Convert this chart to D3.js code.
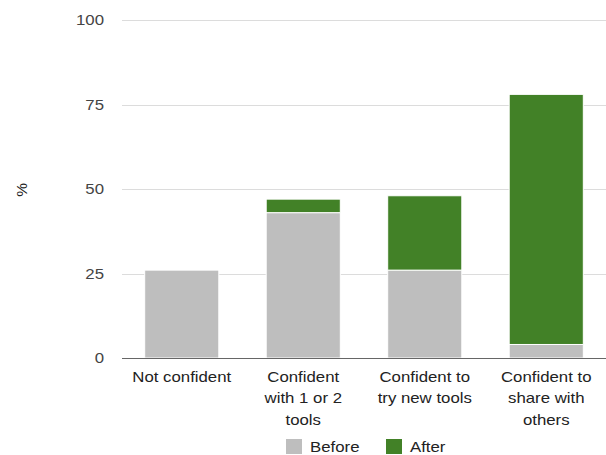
<!DOCTYPE html>
<html><head><meta charset="utf-8">
<script src="https://cdn.jsdelivr.net/npm/d3@7"></script>
<style>body{margin:0;background:#fff}svg{display:block;font-family:"Liberation Sans",Arial,sans-serif}</style>
</head><body>
<svg id="c" width="606" height="455"></svg>
<script>
const categories = [["Not confident"],["Confident","with 1 or 2","tools"],["Confident to","try new tools"],["Confident to","share with","others"]];
const categoryKeys = ["Not confident","Confident with 1 or 2 tools","Confident to try new tools","Confident to share with others"];
const beforeValues = [26, 43, 26, 4];
const afterValues = [0, 4, 22, 74];
const yTicks = [0, 25, 50, 75, 100];
const seriesNames = ["Before", "After"];
const colors = ["#bebebe", "#428127"];
const SX = 1.2; // horizontal text stretch seen in the reference

const svg = d3.select("#c");
const x = d3.scaleBand().domain(categoryKeys).range([121, 607]).paddingInner(0.39).paddingOuter(0.195);
const y = d3.scaleLinear().domain([0, 100]).range([358, 20]);

// gridlines
svg.append("g").selectAll("line").data(yTicks.filter(d=>d>0)).join("line")
  .attr("x1", 122).attr("x2", 606).attr("y1", d=>Math.round(y(d))+0.5).attr("y2", d=>Math.round(y(d))+0.5)
  .attr("stroke", "#dcdcdc").attr("stroke-width", 1);

// y tick labels
svg.append("g").selectAll("text").data(yTicks).join("text")
  .attr("transform", d=>`translate(104,${y(d)+5}) scale(${SX},1)`).attr("text-anchor","end")
  .attr("font-size", 14).attr("fill", "#444").text(d=>d);

// y label
svg.append("text").attr("transform","translate(27,190) rotate(-90) scale(1.1,1)").attr("text-anchor","middle")
  .attr("font-size", 14).attr("fill","#222").text("%");

const table = categoryKeys.map((k,i)=>({key:k, Before:beforeValues[i], After:afterValues[i]}));
const stack = d3.stack().keys(seriesNames)(table);
svg.append("g").selectAll("g").data(stack).join("g").attr("fill", (d,i)=>colors[i])
  .selectAll("rect").data(d=>d.filter(s=>s[1]-s[0]>0)).join("rect")
  .attr("x", d=>x(d.data.key)).attr("width", x.bandwidth())
  .attr("y", d=>y(d[1])).attr("height", d=>y(d[0])-y(d[1]))
  .attr("stroke","#fff").attr("stroke-width",1);

// baseline
svg.append("line").attr("x1",122).attr("x2",606).attr("y1",y(0)+0.5).attr("y2",y(0)+0.5)
  .attr("stroke","#666").attr("stroke-width",1.2);

// category labels
const cl = svg.append("g").selectAll("text").data(categories).join("text")
  .attr("transform", (d,i)=>`translate(${x(categoryKeys[i]) + x.bandwidth()/2},0) scale(${SX},1)`)
  .attr("text-anchor","middle")
  .attr("font-size", 14).attr("fill","#222");
cl.selectAll("tspan").data(d=>d).join("tspan")
  .attr("x", 0).attr("y", (d,j)=>382 + j*21.5).text(d=>d);

// legend
const lx = [286, 386];
const lg = svg.append("g").selectAll("g").data(seriesNames).join("g")
  .attr("transform",(d,i)=>`translate(${lx[i]},439)`);
lg.append("rect").attr("width",16).attr("height",15).attr("fill",(d,i)=>colors[i]);
lg.append("text").attr("transform",`translate(24,13) scale(${SX},1)`).attr("font-size",14).attr("fill","#222").text(d=>d);
</script>
</body></html>
